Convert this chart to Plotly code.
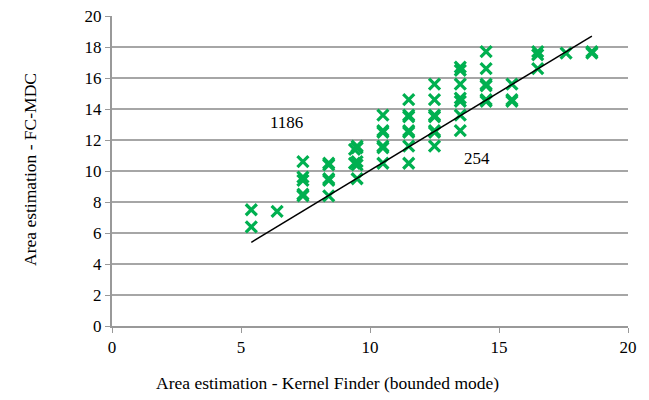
import plotly.graph_objects as go

# Scatter points (x = Kernel Finder estimate, y = FC-MDC estimate)
x_vals = [5.4, 5.4,
          6.4,
          7.4, 7.4, 7.4, 7.4, 7.4,
          8.4, 8.4, 8.4, 8.4, 8.4,
          9.5, 9.5, 9.4, 9.5, 9.4, 9.5, 9.5,
          10.5, 10.5, 10.5, 10.5, 10.5, 10.5,
          11.5, 11.5, 11.5, 11.5, 11.5, 11.5, 11.5,
          12.5, 12.5, 12.5, 12.5, 12.5, 12.5, 12.5,
          13.5, 13.5, 13.5, 13.5, 13.5, 13.5, 13.5,
          14.5, 14.5, 14.5, 14.5, 14.5, 14.5,
          15.5, 15.5, 15.5,
          16.5, 16.5, 16.5,
          17.6,
          18.6, 18.6]
y_vals = [7.5, 6.4,
          7.4,
          10.6, 9.6, 9.4, 8.5, 8.4,
          10.5, 10.4, 9.5, 9.4, 8.4,
          11.6, 11.5, 11.4, 10.6, 10.5, 10.4, 9.5,
          13.6, 12.6, 12.5, 11.6, 11.5, 10.5,
          14.6, 13.6, 13.5, 12.6, 12.5, 11.6, 10.5,
          15.6, 14.6, 13.6, 13.5, 12.6, 12.5, 11.6,
          16.7, 16.5, 15.6, 14.7, 14.5, 13.6, 12.6,
          17.7, 16.6, 15.6, 15.5, 14.6, 14.5,
          15.6, 14.6, 14.5,
          17.7, 17.5, 16.6,
          17.6,
          17.7, 17.6]

# Trend line endpoints
line_x = [5.4, 18.6]
line_y = [5.4, 18.7]

# Annotations
label_texts = ["1186", "254"]
label_x = [6.75, 14.15]
label_y = [13.1, 10.8]

x_ticks = [0, 5, 10, 15, 20]
y_ticks = [0, 2, 4, 6, 8, 10, 12, 14, 16, 18, 20]

x_title = "Area estimation - Kernel Finder (bounded mode)"
y_title = "Area estimation - FC-MDC"

font_family = "Liberation Serif, Times New Roman, serif"
green = "#00B050"
axis_gray = "#999999"
W, H = 649, 400
ML, MR, MT, MB = 112, 21, 16, 74

fig = go.Figure()
fig.add_trace(go.Scatter(
    x=x_vals, y=y_vals, mode="markers",
    marker=dict(symbol="x-thin", size=11, color=green,
                line=dict(color=green, width=3.2)),
    showlegend=False, hoverinfo="x+y"))
fig.add_trace(go.Scatter(
    x=line_x, y=line_y, mode="lines",
    line=dict(color="black", width=1.5),
    showlegend=False))

for t, lx, ly in zip(label_texts, label_x, label_y):
    fig.add_annotation(x=lx, y=ly, text=t, showarrow=False,
                       font=dict(family=font_family, size=17, color="black"))

pw = W - ML - MR
ph = H - MT - MB
# axis titles placed in paper coordinates
fig.add_annotation(xref="paper", yref="paper",
                   x=(327 - ML) / pw, y=-(383 - (H - MB)) / ph,
                   text=x_title, showarrow=False,
                   xanchor="center", yanchor="middle",
                   font=dict(family=font_family, size=17.5, color="black"))
fig.add_annotation(xref="paper", yref="paper",
                   x=-(ML - 30) / pw, y=((H - MB) - 170) / ph,
                   text=y_title, showarrow=False, textangle=-90,
                   xanchor="center", yanchor="middle",
                   font=dict(family=font_family, size=17.5, color="black"))

fig.update_layout(
    width=W, height=H,
    margin=dict(l=ML, r=MR, t=MT, b=MB, autoexpand=False),
    paper_bgcolor="white", plot_bgcolor="white",
    font=dict(family=font_family, size=17, color="black"),
    xaxis=dict(range=[0, 20], tickvals=x_ticks, showgrid=False,
               showline=True, linecolor=axis_gray, linewidth=2,
               ticks="outside", ticklen=5, tickcolor=axis_gray, tickwidth=1,
               tickfont=dict(family=font_family, size=17),
               zeroline=False, automargin=False),
    yaxis=dict(range=[0, 20], tickvals=y_ticks, showgrid=True,
               gridcolor="#A6A6A6", gridwidth=1.5,
               showline=True, linecolor=axis_gray, linewidth=2,
               ticks="outside", ticklen=5, tickcolor=axis_gray, tickwidth=1,
               tickfont=dict(family=font_family, size=17),
               zeroline=False, automargin=False),
)

fig.write_html(
    "out.html",
    config={"displayModeBar": False},
    post_script="document.body.style.margin='0';document.body.style.overflow='hidden';",
)
